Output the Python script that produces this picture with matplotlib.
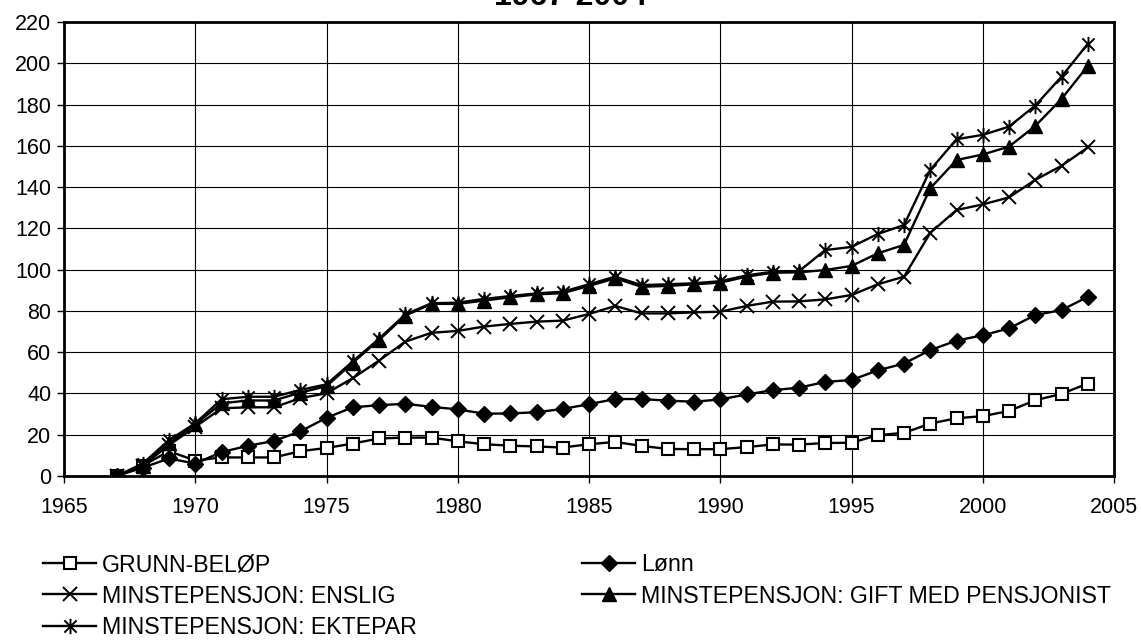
import matplotlib
matplotlib.use("Agg")
import matplotlib.pyplot as plt
from matplotlib.path import Path

# Data (index, 1967 = 0)
years = list(range(1967, 2005))

grunnbelop = [0, 5, 12, 7.5, 9, 9, 9, 12, 13.6, 15.7, 18.2, 18.6, 18.6, 16.8, 15.4, 14.7,
              14.3, 13.8, 15.4, 16.5, 14.6, 13.1, 13, 13, 14, 15.3, 15.2, 16, 16.1, 19.8,
              20.9, 25.4, 28, 29, 31.5, 36.7, 39.8, 44.8]
lonn = [0, 4, 8.5, 6, 11.6, 14.6, 17, 21.6, 28.2, 33.3, 34.3, 35, 33.5, 32.3, 30.2, 30.3,
        30.9, 32.5, 34.8, 37.3, 37.3, 36.5, 36, 37.1, 39.5, 41.6, 42.8, 45.6, 46.5, 51.2,
        54.5, 61, 65.6, 68.2, 71.5, 78, 80.4, 86.8]
enslig = [0, 5, 15, 23.8, 32.8, 33.3, 33.3, 37.7, 40.1, 47.4, 55.9, 65.1, 69.4, 70.3, 72.4,
          73.7, 74.8, 75.3, 78.5, 82.4, 78.8, 78.8, 79.3, 79.6, 82.4, 84.5, 84.6, 85.6,
          87.7, 92.9, 96.6, 117.8, 128.9, 131.6, 135, 143.5, 150.3, 159.2]
gift = [0, 5, 16, 25, 35.2, 36.6, 36.6, 40.4, 43.5, 54.9, 65.9, 77.7, 83.4, 83.4, 85, 86.6,
        88, 88.6, 92.1, 95.8, 91.7, 92.1, 92.9, 93.7, 96.6, 98.5, 98.7, 99.8, 101.8, 107.9,
        112, 139.4, 153.1, 155.8, 159.6, 169.6, 182.7, 198.7]
ektepar = [0, 6, 17.4, 25.5, 37.2, 38.4, 38.4, 41.7, 44.4, 55.5, 66.5, 78.3, 83.7, 84, 85.8,
           87.2, 88.5, 89.3, 92.9, 96.6, 92.5, 92.9, 93.4, 94.4, 97.2, 99, 99.2, 109.5, 111,
           117.3, 121.6, 148.3, 163.2, 165.3, 169.3, 179.5, 193.5, 209.4]

labels = ["GRUNN-BELØP", "Lønn", "MINSTEPENSJON: ENSLIG",
          "MINSTEPENSJON: GIFT MED PENSJONIST", "MINSTEPENSJON: EKTEPAR"]

plt.rcParams["font.family"] = ["Liberation Sans", "DejaVu Sans"]

# Excel style star: an x with a vertical bar through it
star = Path([(-1, -1), (1, 1), (-1, 1), (1, -1), (0, -1.25), (0, 1.25)],
            [Path.MOVETO, Path.LINETO, Path.MOVETO, Path.LINETO, Path.MOVETO, Path.LINETO])

fig = plt.figure(figsize=(11.41, 6.44), dpi=100)
ax = fig.add_axes([64 / 1141, 1 - 476 / 644, 1050 / 1141, 454 / 644])

lw = 1.7
h_grunn, = ax.plot(years, grunnbelop, color="black", lw=lw, marker="s", ms=8.5,
                   mfc="white", mec="black", mew=1.5)
h_lonn, = ax.plot(years, lonn, color="black", lw=lw, marker="D", ms=8.5, mfc="black", mec="black")
h_enslig, = ax.plot(years, enslig, color="black", lw=lw, marker="x", ms=10.5, mew=1.4)
h_gift, = ax.plot(years, gift, color="black", lw=lw, marker="^", ms=10, mfc="black", mec="black")
h_ekte, = ax.plot(years, ektepar, color="black", lw=lw, marker=star, ms=11, mew=1.4)

ax.set_xlim(1965, 2005)
ax.set_ylim(0, 220)
ax.set_xticks(range(1965, 2006, 5))
ax.set_yticks(range(0, 221, 20))
ax.grid(True, color="black", lw=0.8)
ax.set_axisbelow(True)
for s in ax.spines.values():
    s.set_linewidth(2)
ax.tick_params(direction="out", length=5, width=1, labelsize=15.5)
ax.tick_params(axis="x", pad=10)
ax.tick_params(axis="y", pad=4)

# title sits mostly above the figure edge, as in the source image
fig.text(0.5, 1 - 5 / 644, "1967-2004", ha="center", va="baseline",
         fontsize=23, fontweight="bold")

leg_kw = dict(loc="upper left", frameon=False, fontsize=16.7, handlelength=2.3,
              handletextpad=0.25, borderpad=0, borderaxespad=0, labelspacing=0.37)
fig.legend([h_grunn, h_enslig, h_ekte], [labels[0], labels[2], labels[4]],
           bbox_to_anchor=(43 / 1141, 1 - 553 / 644), **leg_kw)
fig.legend([h_lonn, h_gift], [labels[1], labels[3]],
           bbox_to_anchor=(582 / 1141, 1 - 553 / 644), **leg_kw)

fig.savefig("out.png", dpi=100)
